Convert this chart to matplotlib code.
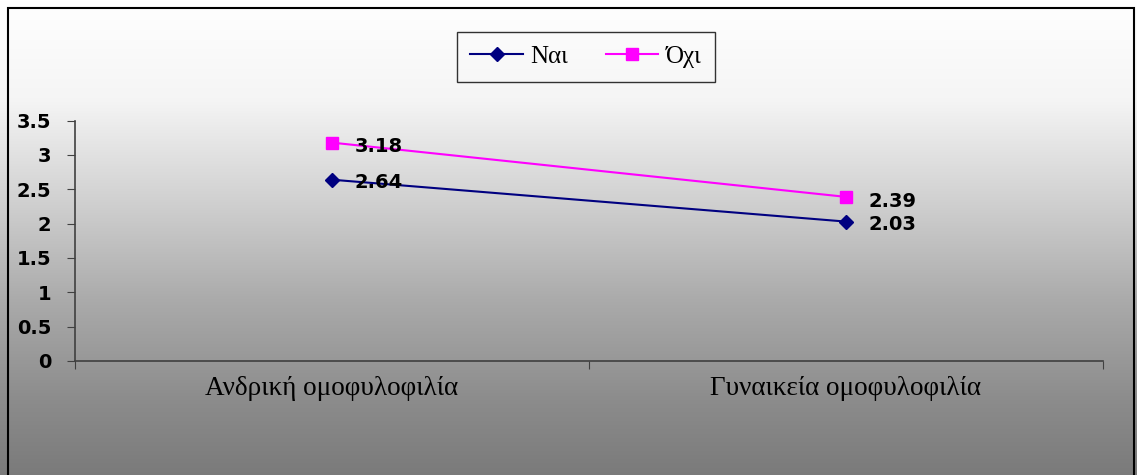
import numpy as np
import matplotlib.pyplot as plt

categorias = ["Ανδρική ομοφυλοφιλία", "Γυναικεία ομοφυλοφιλία"]
valores_nai = [2.64, 2.03]
valores_oxi = [3.18, 2.39]
etiquetas_y = [0, 0.5, 1, 1.5, 2, 2.5, 3, 3.5]

fig = plt.figure(figsize=(11.37, 4.75), dpi=100)

# fondo degradado (blanco arriba, gris abajo)
bg = fig.add_axes([0, 0, 1, 1], zorder=0)
filas = np.linspace(0, 1, 475)
gris = np.interp(filas, [0, 0.21, 0.42, 0.63, 0.84, 1.0],
                 [1.0, 0.96, 0.82, 0.67, 0.55, 0.48])
img = np.repeat(gris[:, None, None], 3, axis=2).repeat(10, axis=1)
bg.imshow(img, aspect='auto', extent=[0, 1, 0, 1], origin='upper')
bg.set_xlim(0, 1)
bg.set_ylim(0, 1)
bg.axis('off')
bg.add_patch(plt.Rectangle((0.007, -0.01), 0.99, 0.993, fill=False,
                           edgecolor='black', linewidth=1.5))

ax = fig.add_axes([0.066, 0.24, 0.904, 0.506], zorder=1)
ax.patch.set_alpha(0)
x = np.arange(len(categorias))

ax.plot(x, valores_nai, color='#000080', marker='D', markersize=7,
        linewidth=1.5, label='Ναι')
ax.plot(x, valores_oxi, color='#FF00FF', marker='s', markersize=8,
        linewidth=1.5, label='Όχι')

for xi, v in zip(x, valores_nai):
    ax.annotate(f"{v:.2f}", (xi, v), xytext=(16, -2), textcoords='offset points',
                ha='left', va='center', fontsize=14, fontweight='bold')
for xi, v in zip(x, valores_oxi):
    ax.annotate(f"{v:.2f}", (xi, v), xytext=(16, -3), textcoords='offset points',
                ha='left', va='center', fontsize=14, fontweight='bold')

ax.set_xlim(-0.5, 1.5)
ax.set_ylim(0, 3.5)
ax.set_yticks(etiquetas_y)
ax.set_yticklabels([f"{v:g}" for v in etiquetas_y], fontsize=14, fontweight='bold')
ax.set_xticks([-0.5, 0.5, 1.5])
ax.set_xticklabels([])
ax.set_xticks(x, minor=True)
ax.set_xticklabels(categorias, minor=True, fontsize=19.5, family='Liberation Serif')
ax.tick_params(axis='x', which='minor', length=0, pad=11)
ax.tick_params(axis='x', which='major', length=6, color='#404040')
ax.tick_params(axis='y', length=6, color='#404040', pad=11)

for lado in ['top', 'right']:
    ax.spines[lado].set_visible(False)
for lado in ['left', 'bottom']:
    ax.spines[lado].set_color('#404040')
    ax.spines[lado].set_linewidth(1.2)

leg = ax.legend(loc='center', bbox_to_anchor=(0.497, 1.265), ncol=2,
                prop={'family': 'Liberation Serif', 'size': 18},
                frameon=True, fancybox=False, edgecolor='black',
                handlelength=2.1, handletextpad=0.3, columnspacing=1.5,
                borderpad=0.55)
leg.get_frame().set_linewidth(1.0)
leg.get_frame().set_facecolor('none')

plt.savefig('out.png', dpi=100)
